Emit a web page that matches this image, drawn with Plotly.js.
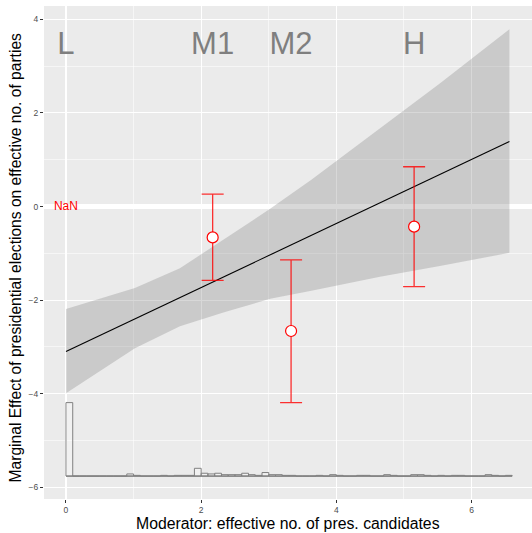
<!DOCTYPE html>
<html>
<head>
<meta charset="utf-8">
<script src="https://cdn.plot.ly/plotly-3.0.1.min.js"></script>
<style>
  html, body { margin: 0; padding: 0; background: #ffffff; }
  #chart { width: 532px; height: 533px; }
</style>
</head>
<body>
<div id="chart"></div>
<script>
// Linear marginal effect and its confidence band
const lineX = [0, 6.56];
const lineY = [-3.10, 1.39];

const bandX = [0, 1.02, 1.686, 2.34, 3.02, 3.63, 4.645, 5.53, 6.56];
const bandLower = [-3.99, -3.03, -2.56, -2.26, -1.97, -1.80, -1.50, -1.27, -0.99];
const bandUpper = [-2.19, -1.74, -1.32, -0.69, -0.05, 0.57, 1.67, 2.63, 3.79];

// Binned estimates (low, medium 1, medium 2, high)
const binLabels = ["L", "M1", "M2", "H"];
const binX = [0, 2.17, 3.33, 5.15];
const binEst = [NaN, -0.66, -2.66, -0.43];
const binHi = [NaN, 0.265, -1.14, 0.85];
const binLo = [NaN, -1.58, -4.19, -1.71];
const labelY = 3.42;

// Distribution of the moderator (bins of width 0.1 starting at 0)
const histStart = 0;
const histWidth = 0.1;
const histCounts = [
  104, 0, 0, 0, 0, 0, 0, 0, 0, 3,
  1, 0, 0, 0, 1, 0, 1, 1, 1, 11,
  4, 3, 4, 2, 2, 2, 4, 2, 1, 5,
  2, 2, 1, 1, 0, 0, 0, 1, 0, 2,
  1, 0, 0, 1, 1, 0, 0, 2, 1, 0,
  0, 2, 2, 1, 0, 1, 0, 1, 1, 0,
  0, 0, 2, 1, 0, 1
];
const histBase = -5.76;
const histMaxHeight = 1.57;

const histScale = histMaxHeight / Math.max(...histCounts);
const histCenters = histCounts.map((_, i) => histStart + histWidth * (i + 0.5));
const histHeights = histCounts.map(c => c * histScale);
const histEnd = histStart + histWidth * histCounts.length;

const grey = '#808080';
const fontFamily = 'Liberation Sans, Arial, sans-serif';

const traces = [
  // confidence band
  {
    type: 'scatter', mode: 'lines',
    x: bandX.concat(bandX.slice().reverse()),
    y: bandUpper.concat(bandLower.slice().reverse()),
    fill: 'toself', fillcolor: 'rgba(127,127,127,0.3)',
    line: { width: 0, color: 'rgba(0,0,0,0)' },
    hoverinfo: 'skip'
  },
  // marginal effect line
  {
    type: 'scatter', mode: 'lines',
    x: lineX, y: lineY,
    line: { color: '#000000', width: 1.1 }
  },
  // histogram baseline
  {
    type: 'scatter', mode: 'lines',
    x: [histStart, histEnd], y: [histBase, histBase],
    line: { color: grey, width: 1.2 }
  },
  // histogram bars
  {
    type: 'bar',
    x: histCenters, y: histHeights, base: histBase,
    width: histWidth,
    marker: { color: 'rgba(255,255,255,0.3)', line: { color: grey, width: 1 } }
  },
  // binned estimates with confidence intervals
  {
    type: 'scatter', mode: 'markers',
    x: binX, y: binEst,
    error_y: {
      type: 'data', symmetric: false,
      array: binHi.map((h, i) => h - binEst[i]),
      arrayminus: binLo.map((l, i) => binEst[i] - l),
      color: 'rgba(255,0,0,0.8)', thickness: 1.3, width: 11
    },
    marker: { size: 11, color: '#ffffff', line: { color: '#ff0000', width: 1.2 } }
  },
  // bin labels
  {
    type: 'scatter', mode: 'text',
    x: binX, y: binX.map(() => labelY),
    text: binLabels, textposition: 'middle center',
    textfont: { family: fontFamily, size: 31, color: '#7f7f7f' },
    cliponaxis: false
  },
  // estimate of the empty first bin
  {
    type: 'scatter', mode: 'text',
    x: [binX[0]], y: [0],
    text: [String(binEst[0])], textposition: 'middle center',
    textfont: { family: fontFamily, size: 12, color: '#ff0000' }
  }
];

const axisCommon = {
  tickmode: 'linear', tick0: 0, dtick: 2,
  ticks: 'outside', ticklen: 3, tickwidth: 1, tickcolor: '#333333',
  tickfont: { family: fontFamily, size: 8.5, color: '#4d4d4d' },
  showgrid: true, gridcolor: '#ffffff', gridwidth: 1.1,
  minor: { dtick: 1, showgrid: true, gridcolor: '#ffffff', gridwidth: 0.55, ticklen: 0 },
  showline: false, fixedrange: true
};

const layout = {
  width: 532, height: 533,
  margin: { l: 44, r: 0, t: 6, b: 34 },
  paper_bgcolor: '#ffffff', plot_bgcolor: '#ebebeb',
  showlegend: false,
  font: { family: fontFamily },
  xaxis: Object.assign({}, axisCommon, { range: [-0.325, 6.894], zeroline: false }),
  yaxis: Object.assign({}, axisCommon, {
    range: [-6.25, 4.285],
    zeroline: true, zerolinecolor: '#ffffff', zerolinewidth: 4.7
  }),
  bargap: 0,
  annotations: [
    {
      text: 'Moderator: effective no. of pres. candidates',
      xref: 'paper', yref: 'paper', x: 0.5, y: -0.0487,
      xanchor: 'center', yanchor: 'middle', showarrow: false,
      font: { size: 15.8, color: '#000000' }
    },
    {
      text: 'Marginal Effect of presidential elections on effective no. of parties',
      xref: 'paper', yref: 'paper', x: -0.0594, y: 0.49,
      xanchor: 'center', yanchor: 'middle', showarrow: false, textangle: -90,
      font: { size: 15.6, color: '#000000' }
    }
  ]
};

Plotly.newPlot('chart', traces, layout, { displayModeBar: false, staticPlot: true });
</script>
</body>
</html>
